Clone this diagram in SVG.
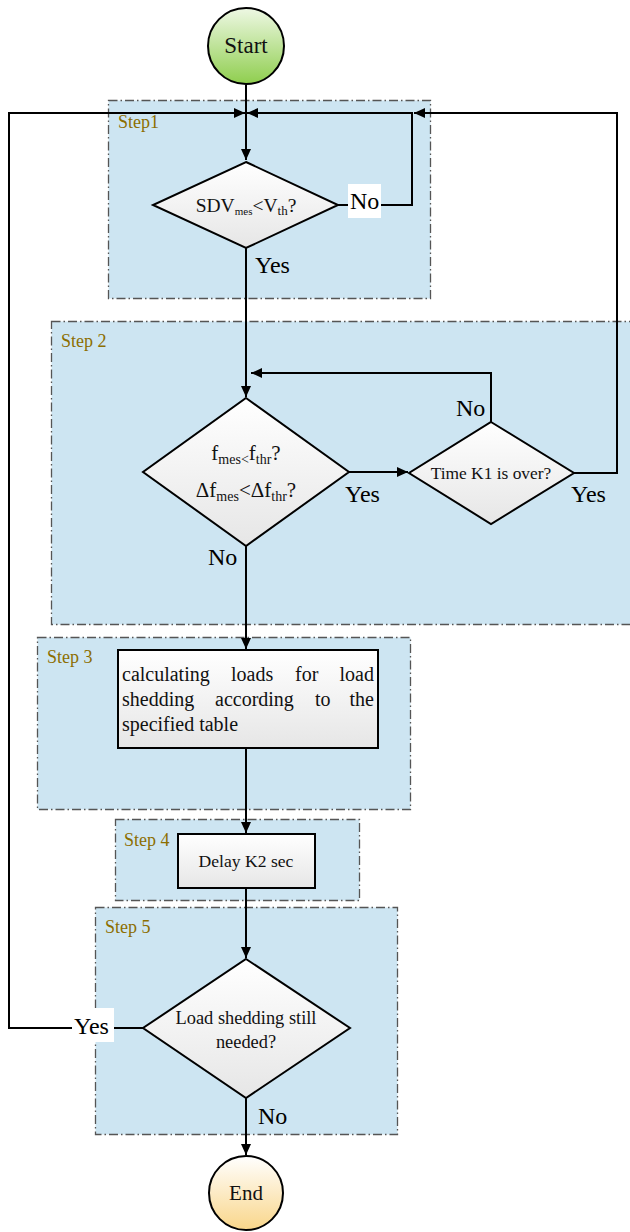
<svg xmlns="http://www.w3.org/2000/svg" width="630" height="1232" viewBox="0 0 630 1232" font-family="'Liberation Serif', 'Times New Roman', Tinos, 'DejaVu Serif', serif">
<defs>
<linearGradient id="gStart" x1="0" y1="0" x2="0" y2="1"><stop offset="0" stop-color="#EEF8E4"/><stop offset="1" stop-color="#8FCE4E"/></linearGradient>
<linearGradient id="gEnd" x1="0" y1="0" x2="0" y2="1"><stop offset="0" stop-color="#FFFFFF"/><stop offset="1" stop-color="#F9D68A"/></linearGradient>
<linearGradient id="gNode" x1="0" y1="0" x2="0" y2="1"><stop offset="0" stop-color="#FFFFFF"/><stop offset="1" stop-color="#E6E6E6"/></linearGradient>
<marker id="arr" markerUnits="userSpaceOnUse" markerWidth="11" markerHeight="10" refX="11" refY="5" orient="auto"><path d="M0,0 L11,5 L0,10 z" fill="#000"/></marker>
<style>
.step{fill:#CDE5F2;stroke:#555;stroke-width:1.3;stroke-dasharray:9 3 1.5 3}
.steplbl{font-size:18px;fill:#8C6E00}
.node{fill:url(#gNode);stroke:#000;stroke-width:2}
.conn{fill:none;stroke:#000;stroke-width:2}
.t{fill:#111}
.lbl{font-size:24px;fill:#000}
.lblbg{fill:#fff}
</style>
</defs>
<rect width="630" height="1232" fill="#fff"/>
<g id="steps">
<rect class="step" x="108.5" y="100.5" width="322" height="198"/>
<rect class="step" x="51.5" y="321.5" width="600" height="303"/>
<rect class="step" x="37.5" y="637.5" width="373" height="172"/>
<rect class="step" x="115.5" y="819.5" width="244" height="81"/>
<rect class="step" x="95.5" y="907.5" width="302" height="227"/>
<text class="steplbl" x="118" y="128">Step1</text>
<text class="steplbl" x="61" y="347">Step 2</text>
<text class="steplbl" x="47" y="663">Step 3</text>
<text class="steplbl" x="124" y="846">Step 4</text>
<text class="steplbl" x="105" y="933">Step 5</text>
</g>
<g id="connectors">
<path class="conn" d="M246 85 V160" marker-end="url(#arr)"/>
<path class="conn" d="M143 1028 H9 V113 H245" marker-end="url(#arr)"/>
<path class="conn" d="M574 473 H617 V113 H414" marker-end="url(#arr)"/>
<path class="conn" d="M338 205 H412 V113 H247" marker-end="url(#arr)"/>
<path class="conn" d="M246 248 V397" marker-end="url(#arr)"/>
<path class="conn" d="M349 472 H408" marker-end="url(#arr)"/>
<path class="conn" d="M491 422 V373 H251" marker-end="url(#arr)"/>
<path class="conn" d="M246 546 V649" marker-end="url(#arr)"/>
<path class="conn" d="M246 748 V833" marker-end="url(#arr)"/>
<path class="conn" d="M246 888 V958" marker-end="url(#arr)"/>
<path class="conn" d="M246 1098 V1155" marker-end="url(#arr)"/>
</g>
<g id="start">
<circle cx="246" cy="46" r="38" fill="url(#gStart)" stroke="#000" stroke-width="2"/>
<text class="t" x="246" y="53" font-size="23" text-anchor="middle">Start</text>
</g>
<g id="d1">
<polygon class="node" points="246,162 338,205 246,248 153,205"/>
<text class="t" x="246" y="212" font-size="19.5" text-anchor="middle">SDV<tspan font-size="11" dy="3">mes</tspan><tspan dy="-3">&lt;V</tspan><tspan font-size="13" dy="3">th</tspan><tspan dy="-3">?</tspan></text>
</g>
<g id="d2">
<polygon class="node" points="246,398 349,472 246,546 143,472"/>
<text class="t" x="246" y="460" font-size="21" text-anchor="middle">f<tspan font-size="14" dy="4">mes&lt;</tspan><tspan dy="-4">f</tspan><tspan font-size="14" dy="4">thr</tspan><tspan dy="-4">?</tspan></text>
<text class="t" x="246" y="497" font-size="21" text-anchor="middle">Δf<tspan font-size="14" dy="4">mes</tspan><tspan dy="-4">&lt;Δf</tspan><tspan font-size="14" dy="4">thr</tspan><tspan dy="-4">?</tspan></text>
</g>
<g id="d3">
<polygon class="node" points="491,422 574,473 491,524 409,473"/>
<text class="t" x="491" y="479" font-size="17.4" text-anchor="middle">Time K1 is over?</text>
</g>
<g id="p1">
<rect class="node" x="118" y="650" width="260" height="98"/>
<text class="t" font-size="20"><tspan x="122" y="681">calculating</tspan><tspan x="231" y="681">loads</tspan><tspan x="295" y="681">for</tspan><tspan x="374" y="681" text-anchor="end">load</tspan></text>
<text class="t" font-size="20"><tspan x="122" y="706">shedding</tspan><tspan x="215" y="706">according</tspan><tspan x="315" y="706">to</tspan><tspan x="374" y="706" text-anchor="end">the</tspan></text>
<text class="t" font-size="20" x="122" y="731">specified table</text>
</g>
<g id="p2">
<rect class="node" x="178" y="834" width="137" height="54"/>
<text class="t" x="246" y="867" font-size="17.6" text-anchor="middle">Delay K2 sec</text>
</g>
<g id="d4">
<polygon class="node" points="246,959 350,1028 246,1098 143,1028"/>
<text class="t" x="246" y="1024" font-size="18.4" text-anchor="middle">Load shedding still</text>
<text class="t" x="246" y="1048" font-size="18.4" text-anchor="middle">needed?</text>
</g>
<g id="end">
<circle cx="246" cy="1193" r="37" fill="url(#gEnd)" stroke="#000" stroke-width="2"/>
<text class="t" x="246" y="1200" font-size="21" text-anchor="middle">End</text>
</g>
<g id="labels">
<rect class="lblbg" x="348" y="184" width="33" height="34"/>
<text class="lbl" x="350" y="209">No</text>
<text class="lbl" x="255" y="273">Yes</text>
<text class="lbl" x="456" y="416">No</text>
<text class="lbl" x="345" y="502">Yes</text>
<text class="lbl" x="571" y="502">Yes</text>
<text class="lbl" x="208" y="565">No</text>
<rect class="lblbg" x="72" y="1008" width="42" height="34"/>
<text class="lbl" x="74" y="1034">Yes</text>
<text class="lbl" x="258" y="1124">No</text>
</g>
</svg>
